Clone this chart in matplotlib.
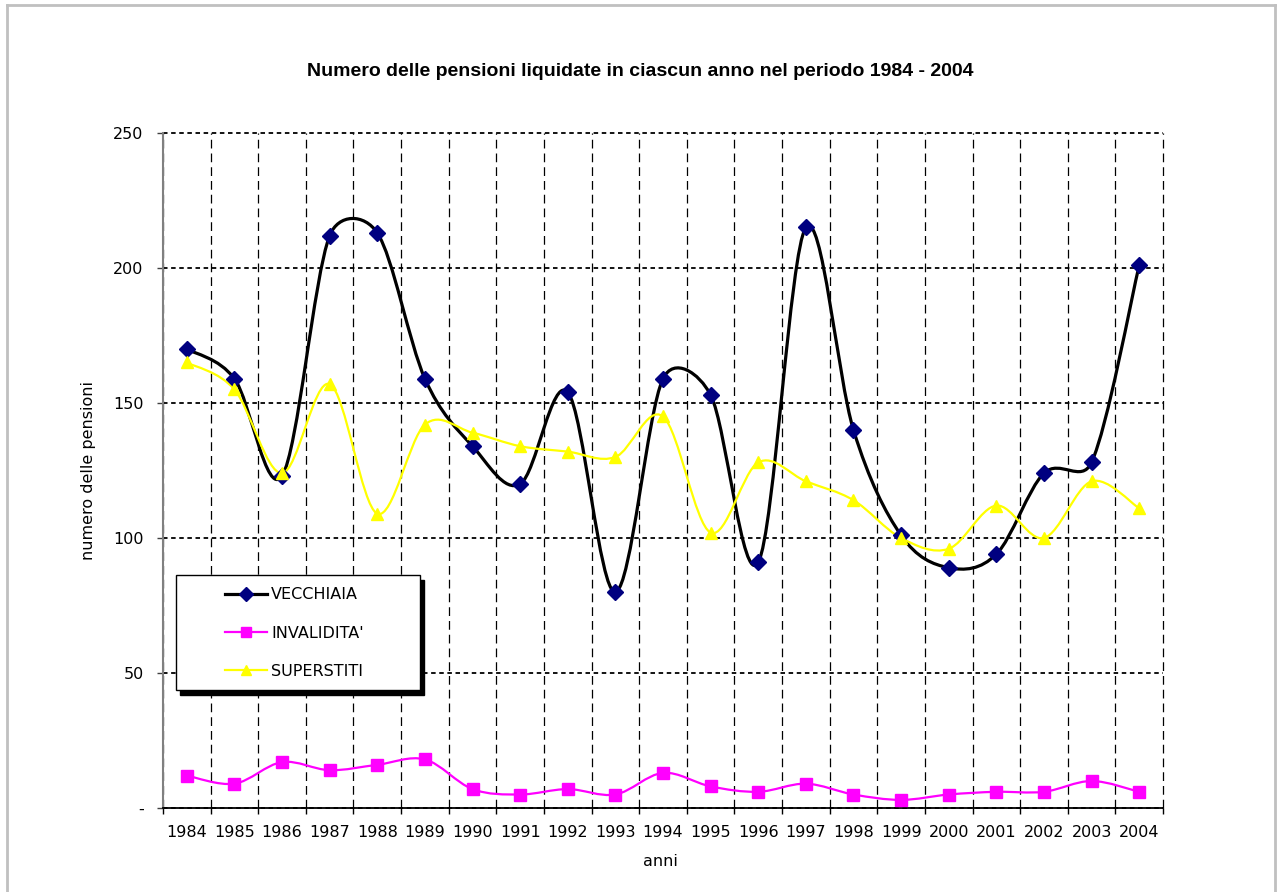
import numpy as np
import matplotlib
matplotlib.use("Agg")
import matplotlib.pyplot as plt
from matplotlib.path import Path
from matplotlib.patches import PathPatch, Rectangle
from matplotlib.lines import Line2D

years = [str(y) for y in range(1984, 2005)]
vecchiaia = [170, 159, 123, 212, 213, 159, 134, 120, 154, 80, 159,
             153, 91, 215, 140, 101, 89, 94, 124, 128, 201]
invalidita = [12, 9, 17, 14, 16, 18, 7, 5, 7, 5, 13,
              8, 6, 9, 5, 3, 5, 6, 6, 10, 6]
superstiti = [165, 155, 124, 157, 109, 142, 139, 134, 132, 130, 145,
              102, 128, 121, 114, 100, 96, 112, 100, 121, 111]
series_names = ["VECCHIAIA", "INVALIDITA'", "SUPERSTITI"]
y_ticks = [0, 50, 100, 150, 200, 250]
y_ticklabels = ["-", "50", "100", "150", "200", "250"]

W, H = 1277, 892
FONT = "DejaVu Sans"


def smooth_path(ax, xs, ys):
    # Excel-like smoothed line: Bezier segments with control points
    # computed in screen space (Murphy's algorithm).
    pts = ax.transData.transform(np.column_stack([xs, ys]))
    n = len(pts)
    verts = [pts[0]]
    codes = [Path.MOVETO]
    for i in range(n - 1):
        p0 = pts[i - 1] if i > 0 else pts[i]
        p1 = pts[i]
        p2 = pts[i + 1]
        p3 = pts[i + 2] if i + 2 < n else pts[i + 1]
        d12 = np.hypot(*(p2 - p1))
        d02 = np.hypot(*(p2 - p0))
        d13 = np.hypot(*(p3 - p1))
        f = 1 / 6 if d02 / 6 < d12 / 2 else d12 / d02 / 2
        g = 1 / 6 if d13 / 6 < d12 / 2 else d12 / d13 / 2
        verts += [p1 + f * (p2 - p0), p2 - g * (p3 - p1), p2]
        codes += [Path.CURVE4] * 3
    return Path(ax.transData.inverted().transform(np.array(verts)), codes)


fig = plt.figure(figsize=(W / 100, H / 100), dpi=100)
ax = fig.add_axes([163 / W, 1 - 808 / H, 1000 / W, 675 / H])
x = np.arange(len(years))
ax.set_xlim(-0.5, len(years) - 0.5)
ax.set_ylim(0, 250)

styles = [
    dict(color="black", lw=2.3, marker="D", mfc="#000080", mec="#000080", ms=8.5),
    dict(color="#FF00FF", lw=1.6, marker="s", mfc="#FF00FF", mec="#FF00FF", ms=8),
    dict(color="#FFFF00", lw=1.6, marker="^", mfc="#FFFF00", mec="#FFFF00", ms=9),
]
handles = []
for vals, st, name in zip([vecchiaia, invalidita, superstiti], styles, series_names):
    ax.add_patch(PathPatch(smooth_path(ax, x, vals), facecolor="none",
                           edgecolor=st["color"], lw=st["lw"], zorder=3,
                           capstyle="round", joinstyle="round"))
    ax.plot(x, vals, linestyle="none", marker=st["marker"], ms=st["ms"],
            mfc=st["mfc"], mec=st["mec"], zorder=4)
    handles.append(Line2D([], [], color=st["color"], lw=st["lw"], marker=st["marker"],
                          ms=st["ms"] * 0.85, mfc=st["mfc"], mec=st["mec"]))

# axes & grid
ax.set_yticks(y_ticks)
ax.set_yticklabels(y_ticklabels, fontsize=11.5, family=FONT)
ax.set_xticks(x)
ax.set_xticklabels(years, fontsize=11.5, family=FONT)
ax.set_xticks(np.arange(-0.5, len(years), 1), minor=True)
ax.tick_params(axis="x", which="major", length=0, pad=12)
ax.tick_params(axis="x", which="minor", length=4, width=1, color="black", direction="out")
ax.tick_params(axis="y", length=4, width=1, color="#404040", pad=10)
ax.grid(axis="y", which="major", color="black", lw=1.3, linestyle=(0, (2.5, 2)))
ax.grid(axis="x", which="minor", color="black", lw=0.9, linestyle=(0, (7, 4)))
for t in ax.xaxis.get_minor_ticks():
    t.gridline.set_clip_on(False)
for t in ax.yaxis.get_major_ticks():
    t.gridline.set_clip_on(False)
ax.set_axisbelow(True)
for s in ["top", "right"]:
    ax.spines[s].set_visible(False)
ax.spines["left"].set_color("#808080")
ax.spines["left"].set_linewidth(1.5)
ax.spines["bottom"].set_color("black")
ax.spines["bottom"].set_linewidth(1.3)

fig.text(640 / W, 1 - 72 / H, "Numero delle pensioni liquidate in ciascun anno nel periodo 1984 - 2004",
         ha="center", va="center", fontsize=14, weight="bold", family="Liberation Sans")
fig.text(88 / W, 1 - 470 / H, "numero delle pensioni", ha="center", va="center",
         rotation=90, fontsize=11.5, family=FONT)
fig.text(660 / W, 1 - 862 / H, "anni", ha="center", va="center", fontsize=11.5, family=FONT)

# legend with black drop shadow
lx0, ly0, lx1, ly1 = 176, 575, 420, 690
fig.add_artist(Rectangle(((lx0 + 4) / W, 1 - (ly1 + 5) / H), (lx1 - lx0) / W, (ly1 - ly0) / H,
                         transform=fig.transFigure, facecolor="black", edgecolor="black",
                         lw=1, zorder=6))
fig.add_artist(Rectangle((lx0 / W, 1 - ly1 / H), (lx1 - lx0) / W, (ly1 - ly0) / H,
                         transform=fig.transFigure, facecolor="white", edgecolor="black",
                         lw=1, zorder=7))
leg = fig.legend(handles, series_names, loc="center left",
                 bbox_to_anchor=(225 / W, 1 - 633 / H), frameon=False, borderpad=0,
                 borderaxespad=0, handlelength=2.6, handletextpad=0.3, labelspacing=1.45,
                 prop=dict(family=FONT, size=11.5))
leg.set_zorder(8)

# outer chart-area border
for xs_, ys_ in [((7, 1275), (5, 5)), ((7, 7), (5, 900)), ((1275, 1275), (5, 900))]:
    fig.add_artist(Line2D([v / W for v in xs_], [1 - v / H for v in ys_],
                          transform=fig.transFigure, color="#C0C0C0", lw=2))

fig.savefig("out.png", dpi=100)
